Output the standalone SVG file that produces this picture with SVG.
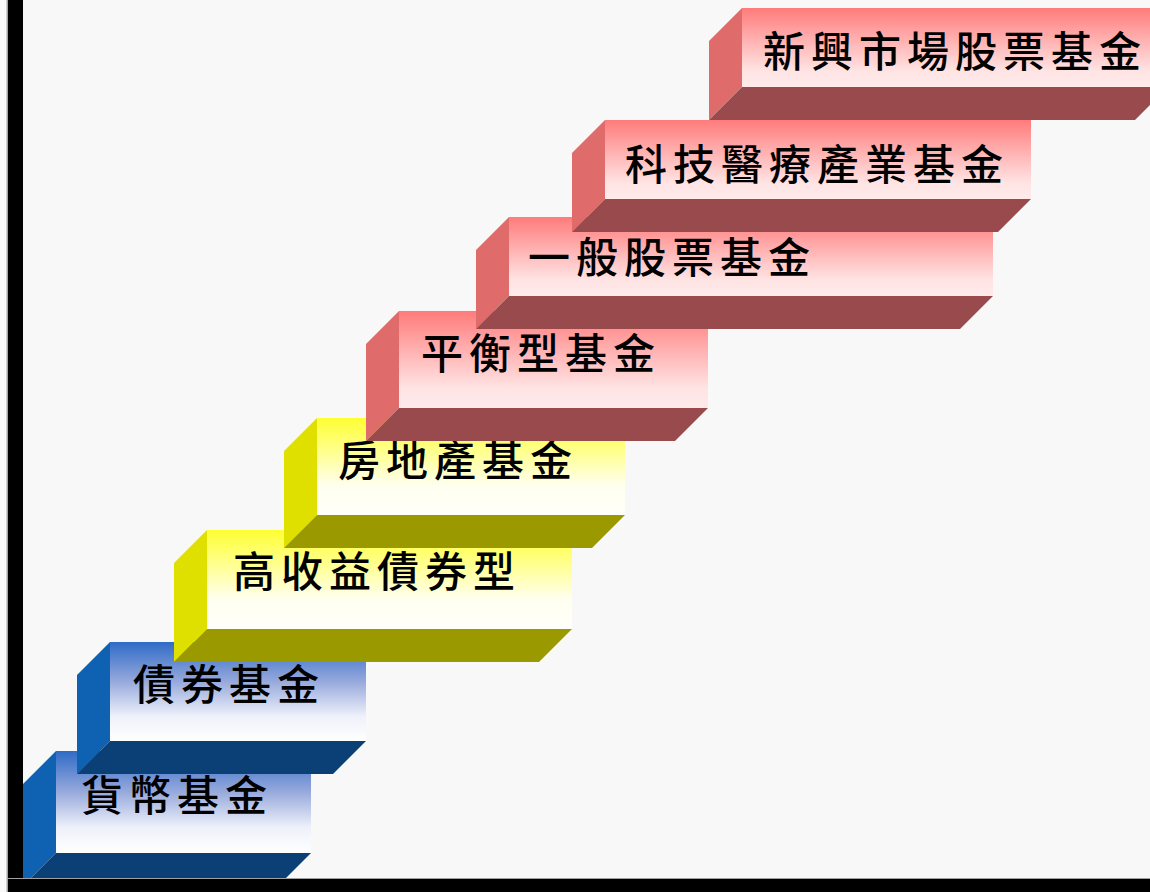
<svg xmlns="http://www.w3.org/2000/svg" width="1150" height="892" viewBox="0 0 1150 892">
<defs>
<linearGradient id="gBlue" x1="0" y1="0" x2="0" y2="1">
<stop offset="0" stop-color="#2f6bc6"/><stop offset="0.4" stop-color="#97a9dc"/><stop offset="0.75" stop-color="#eef1fa"/><stop offset="1" stop-color="#ffffff"/>
</linearGradient>
<linearGradient id="gYellow" x1="0" y1="0" x2="0" y2="1">
<stop offset="0" stop-color="#ffff33"/><stop offset="0.35" stop-color="#ffff90"/><stop offset="0.7" stop-color="#fffff0"/><stop offset="1" stop-color="#fffffa"/>
</linearGradient>
<linearGradient id="gPink" x1="0" y1="0" x2="0" y2="1">
<stop offset="0" stop-color="#ff7b7b"/><stop offset="0.4" stop-color="#ffb0b0"/><stop offset="0.8" stop-color="#ffe4e4"/><stop offset="1" stop-color="#ffeaea"/>
</linearGradient>
<style>
.lbl{font-family:"Noto Sans CJK TC","Noto Sans CJK SC",sans-serif;font-size:42px;letter-spacing:6px;fill:#000;font-weight:500}
.bF{fill:url(#gBlue)} .bL{fill:#0f62b2} .bB{fill:#0b4077}
.yF{fill:url(#gYellow)} .yL{fill:#e0e000} .yB{fill:#9b9900}
.pF{fill:url(#gPink)} .pL{fill:#e06b6b} .pB{fill:#984a4d}
</style>
</defs>
<rect x="0" y="0" width="1150" height="892" fill="#f8f8f8"/>
<g id="step1">
<rect class="bF" x="56" y="751" width="255" height="102"/>
<polygon class="bL" points="56,751 23,784 23,886 56,853"/>
<polygon class="bB" points="56,853 311,853 278,886 23,886"/>
<text class="lbl" x="81" y="811">貨幣基金</text>
</g>
<g id="step2">
<rect class="bF" x="110" y="642" width="256" height="99"/>
<polygon class="bL" points="110,642 77,675 77,774 110,741"/>
<polygon class="bB" points="110,741 366,741 333,774 77,774"/>
<text class="lbl" x="133" y="700">債券基金</text>
</g>
<g id="step3">
<rect class="yF" x="207" y="530" width="365" height="99"/>
<polygon class="yL" points="207,530 174,563 174,662 207,629"/>
<polygon class="yB" points="207,629 572,629 539,662 174,662"/>
<text class="lbl" x="233" y="587">高收益債券型</text>
</g>
<g id="step4">
<rect class="yF" x="317" y="418" width="308" height="97"/>
<polygon class="yL" points="317,418 284,451 284,548 317,515"/>
<polygon class="yB" points="317,515 625,515 592,548 284,548"/>
<text class="lbl" x="338" y="476">房地產基金</text>
</g>
<g id="step5">
<rect class="pF" x="399" y="311" width="309" height="97"/>
<polygon class="pL" points="399,311 366,344 366,441 399,408"/>
<polygon class="pB" points="399,408 708,408 675,441 366,441"/>
<text class="lbl" x="421" y="369">平衡型基金</text>
</g>
<g id="step6">
<rect class="pF" x="509" y="217" width="484" height="79"/>
<polygon class="pL" points="509,217 476,250 476,329 509,296"/>
<polygon class="pB" points="509,296 993,296 960,329 476,329"/>
<text class="lbl" x="528" y="273">一般股票基金</text>
</g>
<g id="step7">
<rect class="pF" x="605" y="120" width="426" height="79"/>
<polygon class="pL" points="605,120 572,153 572,232 605,199"/>
<polygon class="pB" points="605,199 1031,199 998,232 572,232"/>
<text class="lbl" x="625" y="180">科技醫療產業基金</text>
</g>
<g id="step8">
<rect class="pF" x="742" y="8" width="426" height="79"/>
<polygon class="pL" points="742,8 709,41 709,120 742,87"/>
<polygon class="pB" points="742,87 1168,87 1135,120 709,120"/>
<text class="lbl" x="763" y="67">新興市場股票基金</text>
</g>
<g id="frame">
<rect x="6.5" y="0" width="1.5" height="892" fill="#a0a0a0"/>
<rect x="8" y="0" width="15" height="892" fill="#000"/>
<rect x="8" y="878" width="1142" height="1" fill="#a0a0a0"/>
<rect x="8" y="879" width="1142" height="13" fill="#000"/>
</g>
</svg>
